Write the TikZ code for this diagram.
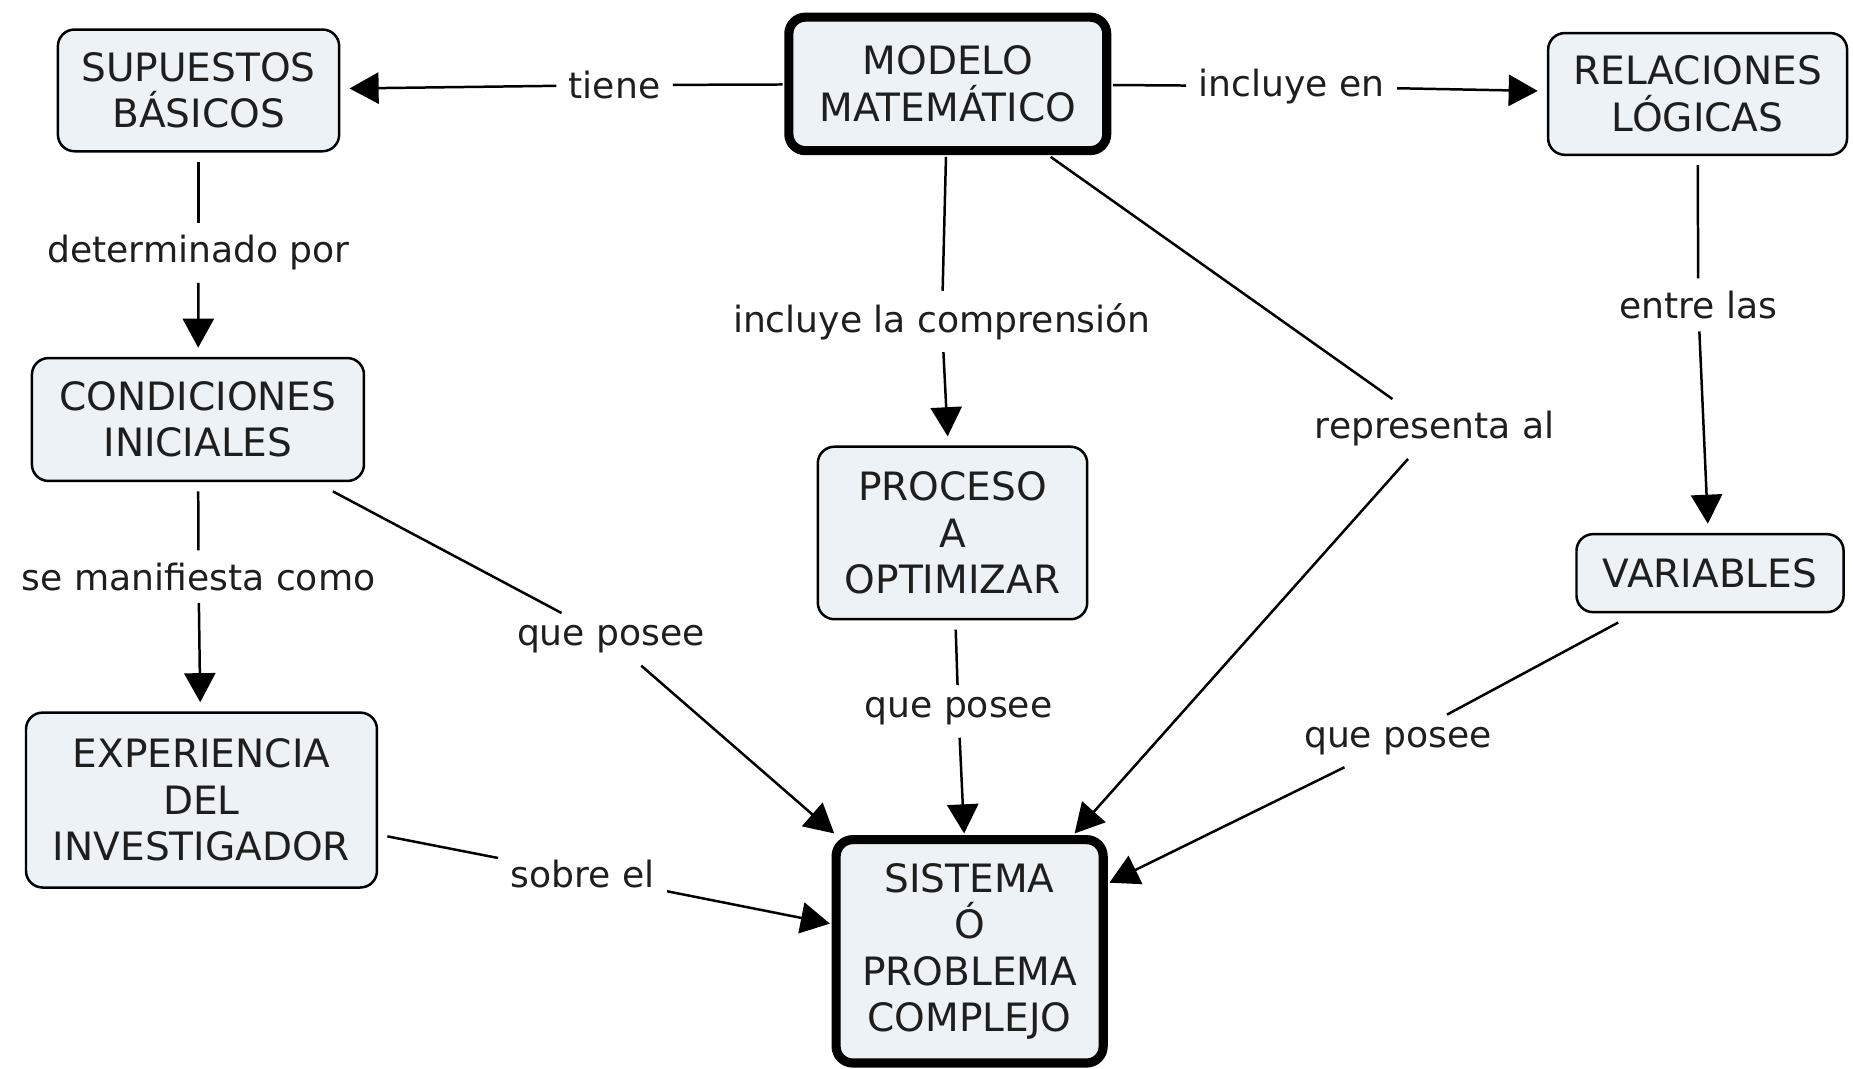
\documentclass[tikz,border=0pt]{standalone}
\usepackage{fontspec}
\setmainfont{DejaVu Sans}
\usetikzlibrary{arrows.meta}
\definecolor{cmapfill}{RGB}{236,242,245}
\definecolor{cmaptext}{RGB}{30,30,30}

\begin{document}
\begin{tikzpicture}[
    concept/.style={draw, rounded corners=4pt, fill=cmapfill, align=center,
        line width=0.6pt, inner sep=0pt, outer sep=2.5pt, text=cmaptext,
        font=\fontsize{9.4}{11.2}\selectfont},
    mainconcept/.style={concept, line width=2.2pt, outer sep=1.5pt},
    linkword/.style={inner sep=2pt, outer sep=1pt, text=cmaptext, font=\fontsize{8.7}{10.5}\selectfont},
    link/.style={line width=0.6pt},
    linkarrow/.style={line width=0.6pt, -{Triangle[length=7pt,width=7.5pt]}}
]
    \useasboundingbox (0,0) rectangle (15.68,-9.04);
    % concepts
    \node [mainconcept, minimum width=2.69cm, minimum height=1.13cm] (modelo) at (8.02,-0.71) {MODELO\\MATEMÁTICO};
    \node [concept, minimum width=2.38cm, minimum height=1.03cm] (supuestos) at (1.68,-0.765) {SUPUESTOS\\BÁSICOS};
    \node [concept, minimum width=2.53cm, minimum height=1.03cm] (relaciones) at (14.365,-0.795) {RELACIONES\\LÓGICAS};
    \node [concept, minimum width=2.81cm, minimum height=1.04cm] (condiciones) at (1.675,-3.55) {CONDICIONES\\INICIALES};
    \node [concept, minimum width=2.28cm, minimum height=1.46cm] (proceso) at (8.06,-4.51) {PROCESO\\A\\OPTIMIZAR};
    \node [concept, minimum width=2.26cm, minimum height=0.66cm] (variables) at (14.47,-4.85) {VARIABLES};
    \node [concept, minimum width=2.97cm, minimum height=1.48cm] (experiencia) at (1.705,-6.77) {EXPERIENCIA\\DEL\\INVESTIGADOR};
    \node [mainconcept, minimum width=2.26cm, minimum height=1.89cm] (sistema) at (8.205,-8.05) {SISTEMA\\Ó\\PROBLEMA\\COMPLEJO};
    % linking words
    \node [linkword] (tiene) at (5.20,-0.72) {tiene};
    \node [linkword] (incluyeen) at (10.93,-0.73) {incluye en};
    \node [linkword] (determinado) at (1.68,-2.14) {determinado por};
    \node [linkword] (comprension) at (7.97,-2.72) {incluye la comprensión};
    \node [linkword] (representa) at (12.14,-3.63) {representa al};
    \node [linkword] (entrelas) at (14.37,-2.58) {entre las};
    \node [linkword] (manifiesta) at (1.68,-4.88) {se manifiesta como};
    \node [linkword] (poseeA) at (5.17,-5.41) {que posee};
    \node [linkword] (poseeB) at (8.11,-6.02) {que posee};
    \node [linkword] (poseeC) at (11.83,-6.27) {que posee};
    \node [linkword] (sobre) at (4.93,-7.40) {sobre el};
    % connectors
    \draw [link] (modelo) -- (tiene);
    \draw [linkarrow] (tiene) -- (supuestos);
    \draw [link] (modelo) -- (incluyeen);
    \draw [linkarrow] (incluyeen) -- (relaciones);
    \draw [link] (supuestos) -- (determinado);
    \draw [linkarrow] (determinado) -- (condiciones);
    \draw [link] (modelo) -- (comprension);
    \draw [linkarrow] (comprension) -- (proceso);
    \draw [link] (modelo) -- (representa);
    \draw [linkarrow] (representa) -- (sistema);
    \draw [link] (relaciones) -- (entrelas);
    \draw [linkarrow] (entrelas) -- (variables);
    \draw [link] (condiciones) -- (manifiesta);
    \draw [linkarrow] (manifiesta) -- (experiencia);
    \draw [link] (condiciones) -- (poseeA);
    \draw [linkarrow] (poseeA) -- (sistema);
    \draw [link] (proceso) -- (poseeB);
    \draw [linkarrow] (poseeB) -- (sistema);
    \draw [link] (variables) -- (poseeC);
    \draw [linkarrow] (poseeC) -- (sistema);
    \draw [link] (experiencia) -- (sobre);
    \draw [linkarrow] (sobre) -- (sistema);
\end{tikzpicture}
\end{document}
